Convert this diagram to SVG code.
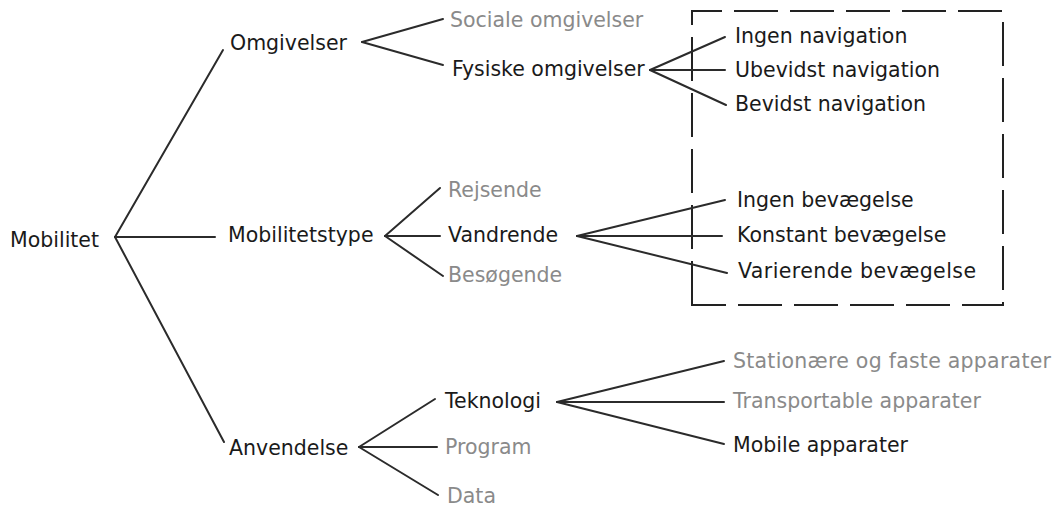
<svg xmlns="http://www.w3.org/2000/svg" width="1062" height="509" viewBox="0 0 1062 509">
  <style>
    text { font-family: "DejaVu Sans", Verdana, sans-serif; font-size: 20.5px; fill: #1a1a1a; }
    text.dim { fill: #8a8a8a; }
    .edge { stroke: #2b2b2b; stroke-width: 2; fill: none; stroke-linecap: round; }
    .frame { stroke: #222; stroke-width: 2; fill: none; stroke-dasharray: 44 12; }
  </style>
  <rect width="1062" height="509" fill="#fff"/>

  <!-- dashed frame around the navigation and movement leaves -->
  <path class="frame" d="M692,305 V11 H1003 V305 Z"/>

  <g id="connectors">
    <!-- Mobilitet -->
    <line class="edge" x1="115" y1="237" x2="223" y2="50"/>
    <line class="edge" x1="115" y1="237" x2="215" y2="237"/>
    <line class="edge" x1="115" y1="237" x2="224" y2="442"/>
    <!-- Omgivelser -->
    <line class="edge" x1="362" y1="42" x2="443" y2="19"/>
    <line class="edge" x1="362" y1="42" x2="443" y2="65"/>
    <!-- Fysiske omgivelser -->
    <line class="edge" x1="650" y1="70" x2="725" y2="37"/>
    <line class="edge" x1="650" y1="70" x2="725" y2="70"/>
    <line class="edge" x1="650" y1="70" x2="726" y2="105"/>
    <!-- Mobilitetstype -->
    <line class="edge" x1="385" y1="236" x2="440" y2="188"/>
    <line class="edge" x1="385" y1="236" x2="440" y2="236"/>
    <line class="edge" x1="385" y1="236" x2="443" y2="276"/>
    <!-- Vandrende -->
    <line class="edge" x1="577" y1="236" x2="725" y2="200"/>
    <line class="edge" x1="577" y1="236" x2="722" y2="236"/>
    <line class="edge" x1="577" y1="236" x2="727" y2="273"/>
    <!-- Anvendelse -->
    <line class="edge" x1="359" y1="447" x2="435" y2="399"/>
    <line class="edge" x1="359" y1="447" x2="437" y2="447"/>
    <line class="edge" x1="359" y1="447" x2="438" y2="495"/>
    <!-- Teknologi -->
    <line class="edge" x1="557" y1="402" x2="724" y2="361"/>
    <line class="edge" x1="557" y1="402" x2="724" y2="402"/>
    <line class="edge" x1="557" y1="402" x2="724" y2="444"/>
  </g>

  <g id="n-mobilitet"><text x="10" y="247">Mobilitet</text></g>

  <g id="n-omgivelser"><text x="230" y="50">Omgivelser</text></g>
  <g id="n-mobilitetstype"><text x="228" y="242">Mobilitetstype</text></g>
  <g id="n-anvendelse"><text x="229" y="455">Anvendelse</text></g>

  <g id="n-sociale"><text class="dim" x="450" y="27">Sociale omgivelser</text></g>
  <g id="n-fysiske"><text x="452" y="76">Fysiske omgivelser</text></g>

  <g id="n-ingen-navigation"><text x="735" y="43">Ingen navigation</text></g>
  <g id="n-ubevidst-navigation"><text x="735" y="77">Ubevidst navigation</text></g>
  <g id="n-bevidst-navigation"><text x="735" y="111">Bevidst navigation</text></g>

  <g id="n-rejsende"><text class="dim" x="448" y="197">Rejsende</text></g>
  <g id="n-vandrende"><text x="448" y="242">Vandrende</text></g>
  <g id="n-besoegende"><text class="dim" x="448" y="282">Besøgende</text></g>

  <g id="n-ingen-bevaegelse"><text x="737" y="207">Ingen bevægelse</text></g>
  <g id="n-konstant-bevaegelse"><text x="737" y="242">Konstant bevægelse</text></g>
  <g id="n-varierende-bevaegelse"><text x="738" y="278" textLength="238" lengthAdjust="spacing">Varierende bevægelse</text></g>

  <g id="n-teknologi"><text x="445" y="408">Teknologi</text></g>
  <g id="n-program"><text class="dim" x="445" y="454">Program</text></g>
  <g id="n-data"><text class="dim" x="447" y="503">Data</text></g>

  <g id="n-stationaere"><text class="dim" x="733" y="368" textLength="318" lengthAdjust="spacing">Stationære og faste apparater</text></g>
  <g id="n-transportable"><text class="dim" x="733" y="408">Transportable apparater</text></g>
  <g id="n-mobile"><text x="733" y="452">Mobile apparater</text></g>
</svg>
